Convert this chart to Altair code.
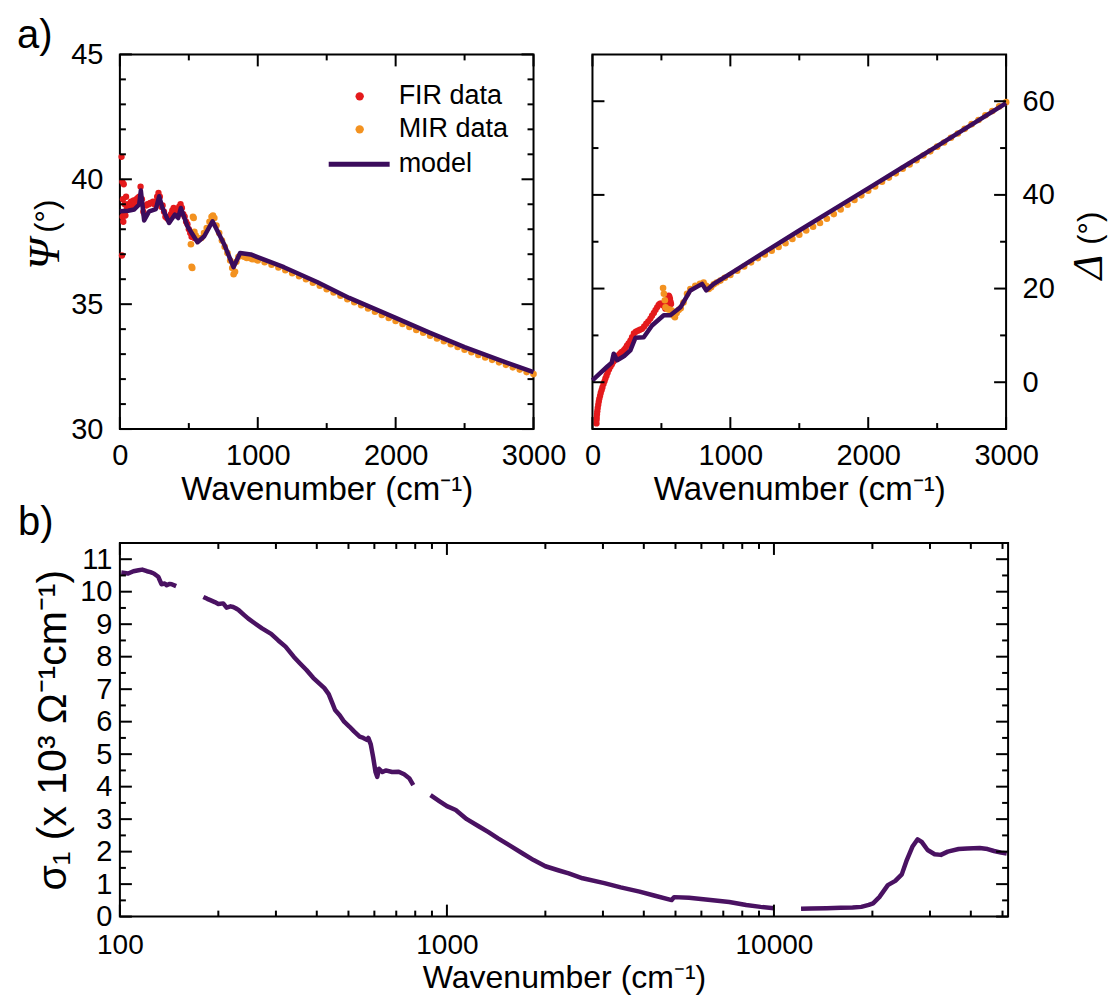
import altair as alt
import pandas as pd

# ---------------- data ----------------
PANEL_LABELS = ["a)", "b)"]
LEGEND_LABELS = ["FIR data", "MIR data", "model"]
X_TITLE = "Wavenumber (cm\u207b\u00b9)"
PSI_SYMBOL = "\u03a8"
DEL_SYMBOL = "\u0394"
DEG = "(\u00b0)"
SIG_TITLE = "\u03c3\u2081 (x 10\u00b3 \u03a9\u207b\u00b9cm\u207b\u00b9)"

# Psi panel: (wavenumber, Psi)
PSI_MODEL = [(0, 38.72), (60, 38.74), (104, 38.79), (140, 38.99), (152, 39.55), (176, 38.35),
             (213, 38.72), (261, 38.81), (285, 39.32), (309, 38.85), (357, 38.25), (399, 38.59),
             (423, 38.45), (442, 38.85), (490, 38.12), (563, 37.48), (612, 37.72), (672, 38.32),
             (757, 37.39), (824, 36.48), (872, 37.05), (949, 36.99), (1190, 36.48), (1430, 35.89),
             (1663, 35.25), (2000, 34.45), (2250, 33.85), (2500, 33.28), (2750, 32.77), (3000, 32.28)]
PSI_FIR = [(12, 40.9), (15, 36.95), (18, 39.9), (20, 38.5), (22, 39.2), (25, 38.3), (28, 39.8),
           (30, 38.6), (35, 39.0), (40, 38.55), (45, 39.3), (50, 38.8), (60, 39.0), (70, 38.9),
           (80, 39.1), (90, 38.95), (100, 39.15), (110, 39.05), (120, 39.2), (130, 39.25),
           (140, 39.3), (150, 39.7), (160, 39.2), (170, 38.7), (180, 38.6), (190, 38.95),
           (200, 39.0), (210, 39.0), (220, 39.05), (230, 39.05), (240, 39.1), (250, 39.0),
           (260, 39.1), (270, 39.3), (280, 39.45), (290, 39.3), (300, 38.9), (310, 38.95),
           (320, 38.7), (330, 38.5), (340, 38.45), (350, 38.4), (360, 38.45), (370, 38.6),
           (380, 38.75), (390, 38.85), (400, 38.75), (410, 38.65), (420, 38.7), (430, 38.9),
           (440, 39.0), (450, 38.85), (460, 38.6), (470, 38.5), (480, 38.3), (490, 38.2),
           (500, 38.0), (510, 37.85), (520, 37.7), (530, 37.7), (540, 37.65)]
PSI_MIR = [(515, 37.4), (520, 36.5), (525, 36.45), (530, 38.5), (535, 38.45), (540, 37.9),
           (550, 37.75), (570, 37.6), (590, 37.65), (610, 37.85), (630, 38.05), (650, 38.3),
           (665, 38.5), (675, 38.55), (685, 38.45), (700, 38.15), (720, 37.85), (740, 37.55),
           (760, 37.3), (780, 37.05), (800, 36.75), (815, 36.45), (825, 36.2), (835, 36.3),
           (845, 36.7), (860, 36.9), (880, 36.95), (900, 36.9), (920, 36.85), (940, 36.85),
           (960, 36.8), (980, 36.8), (1000, 36.75), (1050, 36.68), (1100, 36.58), (1150, 36.47),
           (1200, 36.36), (1250, 36.24), (1300, 36.12), (1350, 36.0), (1400, 35.86), (1450, 35.74),
           (1500, 35.6), (1550, 35.47), (1600, 35.34), (1650, 35.2), (1700, 35.08), (1750, 34.96),
           (1800, 34.83), (1850, 34.7), (1900, 34.57), (1950, 34.45), (2000, 34.33), (2050, 34.21),
           (2100, 34.09), (2150, 33.97), (2200, 33.86), (2250, 33.74), (2300, 33.63), (2350, 33.52),
           (2400, 33.4), (2450, 33.29), (2500, 33.18), (2550, 33.08), (2600, 32.97), (2650, 32.87),
           (2700, 32.77), (2750, 32.67), (2800, 32.57), (2850, 32.47), (2900, 32.38), (2950, 32.28),
           (3000, 32.2)]

# Delta panel: (wavenumber, Delta)
DEL_MODEL = [(0, 0.4), (50, 1.8), (106, 3.3), (140, 4.2), (154, 6.1), (179, 4.7), (230, 5.6),
             (275, 6.8), (312, 9.5), (372, 9.6), (432, 12.1), (517, 14.3), (565, 14.3), (638, 16.0),
             (710, 19.6), (795, 21.0), (826, 19.6), (880, 21.0), (1000, 23.2), (1265, 28.1),
             (1500, 32.4), (1750, 36.9), (2000, 41.4), (2250, 45.9), (2500, 50.4), (2750, 55.0),
             (3000, 59.6)]
DEL_FIR = [(29, -8.8), (30, -8.0), (31, -7.4), (33, -6.8), (35, -6.2), (38, -5.5), (42, -4.8),
           (46, -4.1), (50, -3.5), (55, -2.9), (60, -2.3), (66, -1.7), (72, -1.1), (80, -0.4),
           (87, 0.2), (94, 0.8), (102, 1.4), (110, 2.0), (120, 2.7), (130, 3.3), (140, 3.8),
           (150, 4.3), (160, 4.7), (170, 5.1), (180, 5.4), (190, 5.8), (200, 6.1), (210, 6.4),
           (220, 6.6), (230, 6.9), (240, 7.3), (250, 7.8), (262, 8.3), (275, 8.9), (287, 9.6),
           (300, 10.4), (315, 10.8), (330, 11.0), (345, 11.2), (360, 11.4), (375, 11.9),
           (390, 12.5), (405, 13.0), (420, 13.6), (432, 14.2), (445, 14.8), (457, 15.4),
           (469, 16.0), (480, 16.5), (490, 16.8), (498, 16.8), (505, 16.7), (512, 16.5),
           (520, 16.2), (529, 15.7), (535, 16.2), (540, 17.0), (547, 17.9), (553, 18.5),
           (558, 18.2), (562, 17.8), (566, 17.2), (570, 16.7)]
DEL_MIR = [(512, 20.1), (518, 18.9), (525, 17.5), (530, 16.0), (545, 15.6), (560, 15.5), (575, 15.3),
           (590, 14.2), (598, 13.9), (610, 14.8), (625, 15.4), (640, 15.8), (660, 17.0), (686, 18.9),
           (710, 19.9), (746, 20.6), (780, 21.0), (806, 21.3), (825, 20.6), (843, 19.9), (860, 20.3),
           (880, 20.9), (900, 21.3), (928, 21.7), (960, 22.3), (1000, 22.9), (1050, 23.8), (1100, 24.7),
           (1150, 25.6), (1200, 26.5), (1250, 27.3), (1300, 28.1), (1350, 28.9), (1400, 29.7),
           (1450, 30.6), (1500, 31.5), (1550, 32.4), (1600, 33.2), (1650, 34.0), (1700, 34.9),
           (1750, 35.9), (1800, 36.9), (1850, 37.9), (1900, 38.9), (1950, 39.9), (2000, 40.9),
           (2050, 41.8), (2100, 42.8), (2150, 43.7), (2200, 44.6), (2250, 45.6), (2300, 46.5),
           (2350, 47.4), (2400, 48.4), (2450, 49.3), (2500, 50.3), (2550, 51.2), (2600, 52.2),
           (2650, 53.1), (2700, 54.1), (2750, 55.1), (2800, 56.0), (2850, 57.0), (2900, 57.9),
           (2950, 58.9), (3000, 59.8)]

# sigma_1 panel: (wavenumber, sigma_1 in 10^3 Ohm^-1 cm^-1), four measured segments
SIG_1 = [(101, 10.59), (106, 10.56), (110, 10.63), (114, 10.66), (117, 10.68), (121, 10.63),
         (124, 10.6), (127, 10.56), (131, 10.46), (134, 10.23), (137, 10.25), (139, 10.2),
         (142, 10.24), (144, 10.23), (148.6, 10.17)]
SIG_2 = [(180, 9.84), (185, 9.78), (189, 9.74), (195, 9.68), (200, 9.62), (207, 9.64), (212, 9.51),
         (218, 9.55), (222, 9.53), (226, 9.49), (231, 9.43), (240, 9.28), (247, 9.17), (259, 9.02),
         (272, 8.87), (290, 8.7), (305, 8.5), (321, 8.31), (340, 8.0), (355, 7.8), (372, 7.59),
         (390, 7.35), (410, 7.15), (422, 7.03), (435, 6.85), (445, 6.6), (455, 6.36), (470, 6.2),
         (485, 6.0), (503, 5.85), (520, 5.7), (541, 5.54), (555, 5.5), (569, 5.44), (575, 5.5),
         (585, 5.3), (595, 4.9), (605, 4.45), (612, 4.3), (620, 4.55), (635, 4.45), (650, 4.5),
         (680, 4.45), (712, 4.46), (740, 4.38), (767, 4.26), (789, 4.05)]
SIG_3 = [(891, 3.74), (950, 3.55), (1000, 3.4), (1064, 3.28), (1150, 3.0), (1250, 2.78), (1340, 2.6),
         (1433, 2.41), (1550, 2.2), (1700, 1.95), (1841, 1.74), (2000, 1.55), (2200, 1.42),
         (2357, 1.33), (2600, 1.18), (3029, 1.03), (3400, 0.9), (3882, 0.77), (4300, 0.65),
         (4867, 0.51), (4950, 0.6), (5500, 0.58), (6397, 0.51), (7300, 0.45), (8225, 0.36),
         (9100, 0.3), (10000, 0.26)]
SIG_4 = [(12100, 0.24), (13000, 0.25), (14500, 0.26), (16000, 0.27), (17400, 0.28), (18500, 0.3),
         (19500, 0.36), (20100, 0.41), (21000, 0.6), (22300, 0.97), (23500, 1.1), (24600, 1.3),
         (25500, 1.75), (26500, 2.15), (27500, 2.38), (28300, 2.3), (29500, 2.05), (31000, 1.92),
         (32400, 1.9), (34000, 2.0), (36700, 2.08), (39000, 2.1), (42600, 2.11), (45000, 2.08),
         (47100, 2.02), (49500, 1.97), (51500, 1.94)]

# axis ticks
TOP_X_TICKS = [0, 1000, 2000, 3000]
TOP_X_MINOR = [500, 1500, 2500]
PSI_TICKS = [30, 35, 40, 45]
PSI_MINOR = [31, 32, 33, 34, 36, 37, 38, 39, 41, 42, 43, 44]
DEL_TICKS = [0, 20, 40, 60]
DEL_MINOR = [10, 30, 50]
BOT_X_TICKS = [100, 1000, 10000]
BOT_X_MINOR = [200, 300, 400, 500, 600, 700, 800, 900, 2000, 3000, 4000, 5000, 6000, 7000,
               8000, 9000, 20000, 30000, 40000, 50000]
BOT_Y_TICKS = [0, 1, 2, 3, 4, 5, 6, 7, 8, 9, 10, 11]
BOT_Y_MINOR = [0.5, 1.5, 2.5, 3.5, 4.5, 5.5, 6.5, 7.5, 8.5, 9.5, 10.5]

# ---------------- styling ----------------
FONT = "Liberation Sans"
SERIF = "Liberation Serif"
RED = "#e41a1c"
ORANGE = "#f39220"
PURPLE = "#3b0c5c"
PURPLE2 = "#4a1262"
W_TOP, H_TOP = 414, 375
W_BOT, H_BOT = 889, 374
MAJ, MIN = 12, 6


def tick_layers(xf, yf, xs, ys, xax, yax, xmaj, xmin, ymaj, ymin, W, H):
    out = []
    for vals, L in ((xmaj, MAJ), (xmin, MIN)):
        b = alt.Chart(pd.DataFrame({xf: vals})).mark_rule(color="black", strokeWidth=2)
        xe = alt.X(f"{xf}:Q", scale=xs, axis=xax)
        out.append(b.encode(x=xe, y=alt.value(H), y2=alt.value(H - L)))
        out.append(b.encode(x=xe, y=alt.value(0), y2=alt.value(L)))
    for vals, L in ((ymaj, MAJ), (ymin, MIN)):
        b = alt.Chart(pd.DataFrame({yf: vals})).mark_rule(color="black", strokeWidth=2)
        ye = alt.Y(f"{yf}:Q", scale=ys, axis=yax)
        out.append(b.encode(y=ye, x=alt.value(0), x2=alt.value(L)))
        out.append(b.encode(y=ye, x=alt.value(W), x2=alt.value(W - L)))
    return out


def text_layer(txt, x, y, size, font=FONT, angle=None, style=None, align="center"):
    kw = dict(align=align, baseline="middle", fontSize=size, font=font, color="black")
    if angle is not None:
        kw["angle"] = angle
    if style is not None:
        kw["fontStyle"] = style
    return alt.Chart(pd.DataFrame({"t": [txt]})).mark_text(**kw).encode(
        x=alt.value(x), y=alt.value(y), text="t:N")


def series(rows, xf, yf, xs, ys, xax, yax, mark):
    return alt.Chart(pd.DataFrame(rows, columns=[xf, yf])).mark_circle(
        size=mark[1], color=mark[0], opacity=1).encode(
        x=alt.X(f"{xf}:Q", scale=xs, axis=xax), y=alt.Y(f"{yf}:Q", scale=ys, axis=yax))


def model_line(rows, xf, yf, xs, ys, xax, yax):
    return alt.Chart(pd.DataFrame(rows, columns=[xf, yf])).mark_line(
        color=PURPLE, strokeWidth=4.5, strokeJoin="round").encode(
        x=alt.X(f"{xf}:Q", scale=xs, axis=xax), y=alt.Y(f"{yf}:Q", scale=ys, axis=yax))


top_x_axis = alt.Axis(values=TOP_X_TICKS, format="d", title=X_TITLE, ticks=False, domain=False,
                      grid=False, labelFontSize=29, titleFontSize=33, labelPadding=12,
                      titlePadding=4, labelFlush=False, labelOverlap=False)

# ---------------- panel a, left (Psi) ----------------
xsA = alt.Scale(domain=[0, 3000], nice=False, zero=False)
ysA = alt.Scale(domain=[30, 45], nice=False, zero=False)
yaxA = alt.Axis(values=PSI_TICKS, format="d", title=None, ticks=False, domain=False, grid=False,
                labelFontSize=29, labelPadding=17, labelOverlap=False, labelFlush=False)

legend = [
    alt.Chart(pd.DataFrame({"t": [LEGEND_LABELS[0]]})).mark_circle(size=70, color=RED, opacity=1)
    .encode(x=alt.value(240), y=alt.value(42)),
    alt.Chart(pd.DataFrame({"t": [LEGEND_LABELS[1]]})).mark_circle(size=70, color=ORANGE, opacity=1)
    .encode(x=alt.value(240), y=alt.value(75)),
    alt.Chart(pd.DataFrame({"t": [LEGEND_LABELS[2]]})).mark_rule(color=PURPLE, strokeWidth=5)
    .encode(x=alt.value(209), x2=alt.value(270), y=alt.value(110)),
    text_layer(LEGEND_LABELS[0], 279, 42, 27, align="left"),
    text_layer(LEGEND_LABELS[1], 279, 75, 27, align="left"),
    text_layer(LEGEND_LABELS[2], 279, 110, 27, align="left"),
]

panelA = alt.layer(
    series(PSI_FIR, "wA", "psi", xsA, ysA, top_x_axis, yaxA, (RED, 40)),
    series(PSI_MIR, "wA", "psi", xsA, ysA, top_x_axis, yaxA, (ORANGE, 44)),
    model_line(PSI_MODEL, "wA", "psi", xsA, ysA, top_x_axis, yaxA),
    *tick_layers("wA", "psi", xsA, ysA, top_x_axis, yaxA,
                 TOP_X_TICKS, TOP_X_MINOR, PSI_TICKS, PSI_MINOR, W_TOP, H_TOP),
    *legend,
    text_layer(PANEL_LABELS[0], -103, -18, 40, align="left"),
    text_layer(PSI_SYMBOL, -74, 200, 44, font=SERIF, angle=270, style="italic"),
    text_layer(DEG, -72, 162, 31, angle=270),
).properties(width=W_TOP, height=H_TOP)

# ---------------- panel a, right (Delta) ----------------
xsB = alt.Scale(domain=[0, 3000], nice=False, zero=False)
ysB = alt.Scale(domain=[-10, 70], nice=False, zero=False)
yaxB = alt.Axis(values=DEL_TICKS, format="d", title=None, orient="right", ticks=False,
                domain=False, grid=False, labelFontSize=29, labelPadding=16,
                labelOverlap=False, labelFlush=False)

panelB = alt.layer(
    series(DEL_FIR, "wB", "dl", xsB, ysB, top_x_axis, yaxB, (RED, 40)),
    series(DEL_MIR, "wB", "dl", xsB, ysB, top_x_axis, yaxB, (ORANGE, 44)),
    model_line(DEL_MODEL, "wB", "dl", xsB, ysB, top_x_axis, yaxB),
    *tick_layers("wB", "dl", xsB, ysB, top_x_axis, yaxB,
                 TOP_X_TICKS, TOP_X_MINOR, DEL_TICKS, DEL_MINOR, W_TOP, H_TOP),
    text_layer(DEL_SYMBOL, 497, 213, 42, font=SERIF, angle=270, style="italic"),
    text_layer(DEG, 499, 174, 31, angle=270),
).properties(width=W_TOP, height=H_TOP)

# ---------------- panel b (sigma_1) ----------------
sig_rows = ([(w, v, 1) for w, v in SIG_1] + [(w, v, 2) for w, v in SIG_2]
            + [(w, v, 3) for w, v in SIG_3] + [(w, v, 4) for w, v in SIG_4])
sig_df = pd.DataFrame(sig_rows, columns=["wC", "sig", "seg"])
xsC = alt.Scale(type="log", domain=[100, 52000], nice=False)
ysC = alt.Scale(domain=[0, 11.5], nice=False, zero=False)
xaxC = alt.Axis(values=BOT_X_TICKS, format="d", title=X_TITLE, ticks=False, domain=False,
                grid=False, labelFontSize=28, titleFontSize=32, labelPadding=15,
                titlePadding=3, labelFlush=False, labelOverlap=False)
yaxC = alt.Axis(values=BOT_Y_TICKS, format="d", title=SIG_TITLE, ticks=False,
                domain=False, grid=False, labelFontSize=29, labelPadding=8,
                titleFontSize=41, titlePadding=5, labelOverlap=False, labelFlush=False)

sigC = alt.Chart(sig_df).mark_line(color=PURPLE2, strokeWidth=4.5, strokeJoin="round").encode(
    x=alt.X("wC:Q", scale=xsC, axis=xaxC),
    y=alt.Y("sig:Q", scale=ysC, axis=yaxC),
    detail="seg:N")

panelC = alt.layer(
    sigC,
    *tick_layers("wC", "sig", xsC, ysC, xaxC, yaxC,
                 BOT_X_TICKS, BOT_X_MINOR, BOT_Y_TICKS, BOT_Y_MINOR, W_BOT, H_BOT),
    text_layer(PANEL_LABELS[1], -102, -20, 40, align="left"),
).properties(width=W_BOT, height=H_BOT)

top_row = alt.hconcat(panelA, panelB, spacing=59, bounds="flush").resolve_scale(
    x="independent", y="independent")
chart = alt.vconcat(top_row, panelC, spacing=-6).resolve_scale(
    x="independent", y="independent").properties(
    padding={"left": 16, "top": 15, "right": 0, "bottom": 0}
).configure_view(stroke="black", strokeWidth=2).configure_axis(
    labelFont=FONT, titleFont=FONT, labelColor="black", titleColor="black",
    titleFontWeight="normal")

chart.save("out.html", embed_options={"renderer": "svg", "actions": False})
